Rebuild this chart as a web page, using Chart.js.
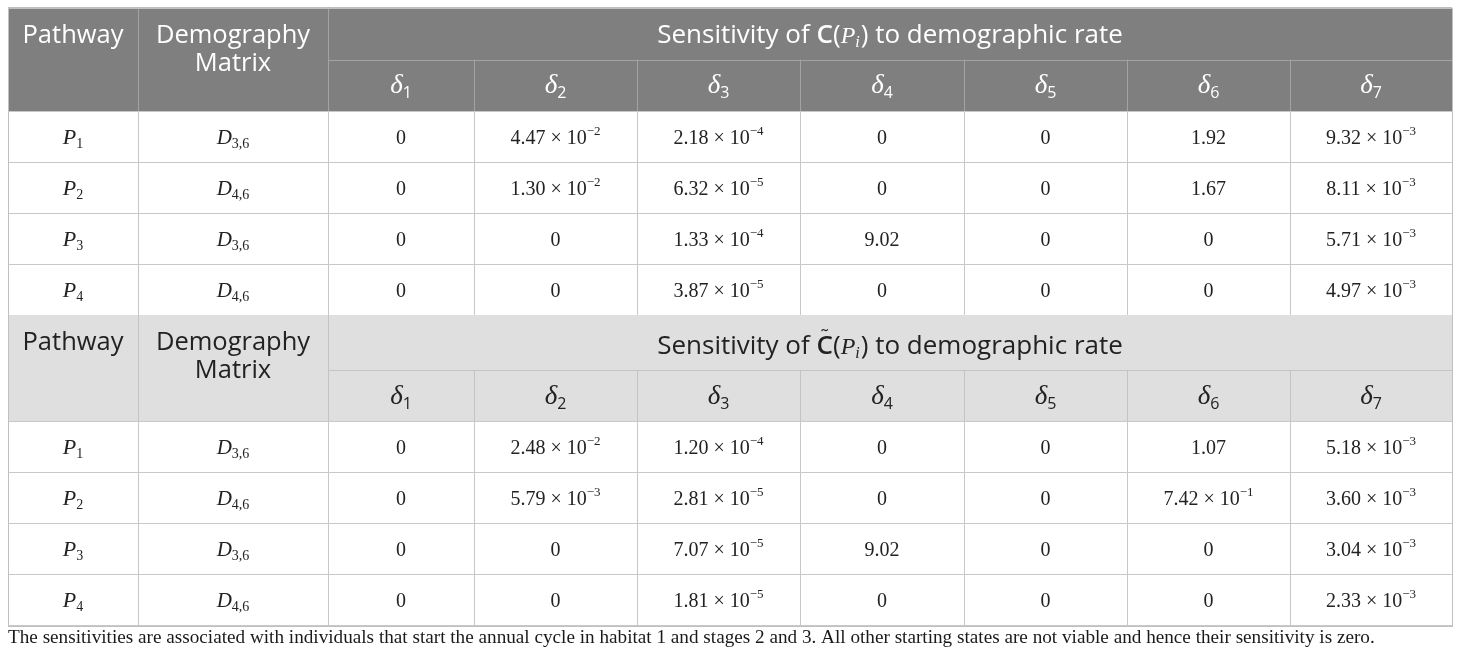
<!DOCTYPE html>
<html>
<head>
<meta charset="utf-8">
<script src="https://cdn.jsdelivr.net/npm/chart.js@4.4.1/dist/chart.umd.min.js"></script>
<style>
html,body{margin:0;padding:0;background:#fff;}
#wrap{width:1460px;height:662px;position:relative;}
</style>
</head>
<body>
<div id="wrap"><canvas id="table"></canvas></div>
<script>
'use strict';
// table content
const rates=['1','2','3','4','5','6','7'];
const pathways=['1','2','3','4'];
const matrices=['3,6','4,6','3,6','4,6'];
const sensC=[
  [0,4.47e-2,2.18e-4,0,0,1.92,9.32e-3],
  [0,1.30e-2,6.32e-5,0,0,1.67,8.11e-3],
  [0,0,1.33e-4,9.02,0,0,5.71e-3],
  [0,0,3.87e-5,0,0,0,4.97e-3],
];
const sensCtilde=[
  [0,2.48e-2,1.20e-4,0,0,1.07,5.18e-3],
  [0,5.79e-3,2.81e-5,0,0,7.42e-1,3.60e-3],
  [0,0,7.07e-5,9.02,0,0,3.04e-3],
  [0,0,1.81e-5,0,0,0,2.33e-3],
];
const colLabels=['Pathway','Demography','Matrix'];
const footnote='The sensitivities are associated with individuals that start the annual cycle in habitat 1 and stages 2 and 3. All other starting states are not viable and hence their sensitivity is zero.';

// layout (table units)
const colW=[130,190,146,163,163,164,163,163,162];
const rowH=[52,51.5,51,51,51,51,55,51,51,51,51,51];
const colEdge=colW.reduce((a,w)=>{a.push(a.at(-1)+w);return a;},[0]);
const rowEdge=rowH.reduce((a,h)=>{a.push(a.at(-1)+h);return a;},[0]);

const SANS='"Open Sans", "Noto Sans", sans-serif';
const SERIF='"Liberation Serif", "DejaVu Serif", serif';
const SCRIPT='italic 22px '+SERIF;
const HEAD='25.5px '+SANS;

function fmt(v){
  if(v===0)return [{t:'0',f:'20px '+SERIF}];
  const e=Math.floor(Math.log10(v)+1e-9);
  if(e>=0)return [{t:v.toFixed(2),f:'20px '+SERIF}];
  const m=(v/Math.pow(10,e)).toFixed(2);
  return [
    {t:m+' \u00d7 10',f:'20px '+SERIF},
    {t:'\u2212'+(-e),f:'13px '+SERIF,dy:-9},
  ];
}

function rich(ctx,segs,cx,base,color){
  let total=0;
  const ws=segs.map(s=>{ctx.font=s.f;const w=ctx.measureText(s.t).width+(s.gap||0);total+=w;return w;});
  let x=cx-total/2;
  ctx.fillStyle=color;
  ctx.textAlign='left';
  ctx.textBaseline='alphabetic';
  segs.forEach((s,i)=>{
    ctx.font=s.f;
    ctx.fillText(s.t,x,base+(s.dy||0));
    if(s.tilde){
      const w=ctx.measureText(s.t).width;
      ctx.font='19px '+SANS;
      ctx.textAlign='center';
      ctx.fillText('\u02dc',x+w/2,base-12);
      ctx.textAlign='left';
    }
    x+=ws[i];
  });
}

const tablePlugin={
  id:'tablePlugin',
  beforeDatasetsDraw(chart){
    const ctx=chart.ctx;
    const xs=chart.scales.x,ys=chart.scales.y;
    const X=v=>xs.getPixelForValue(v);
    const Y=v=>ys.getPixelForValue(v);
    const px=v=>Math.round(v)+0.5;
    const nC=colEdge.length-1;
    const cx=i=>X((colEdge[i]+colEdge[i+1])/2);
    const cy=r=>Y((rowEdge[r]+rowEdge[r+1])/2);

    const hline=(y,c0,c1,col)=>{ctx.strokeStyle=col;ctx.beginPath();ctx.moveTo(X(colEdge[c0]),px(Y(y)));ctx.lineTo(X(colEdge[c1]),px(Y(y)));ctx.stroke();};
    const vline=(c,r0,r1,col)=>{ctx.strokeStyle=col;ctx.beginPath();ctx.moveTo(px(X(colEdge[c])),Y(rowEdge[r0]));ctx.lineTo(px(X(colEdge[c])),Y(rowEdge[r1]));ctx.stroke();};

    ctx.save();
    ctx.lineWidth=1;

    const blocks=[
      {r0:0,bg:'#7f7f7f',line:'#a3a3a3',txt:'#ffffff',data:sensC,tilde:false},
      {r0:6,bg:'#dfdfdf',line:'#c4c4c4',txt:'#222222',data:sensCtilde,tilde:true},
    ];
    blocks.forEach(b=>{
      const r0=b.r0;
      // header background
      ctx.fillStyle=b.bg;
      ctx.fillRect(X(0),Y(rowEdge[r0]),X(colEdge[nC])-X(0),Y(rowEdge[r0+2])-Y(rowEdge[r0]));
      // header grid
      hline(rowEdge[r0+1],2,nC,b.line);
      vline(1,r0,r0+2,b.line);
      vline(2,r0,r0+2,b.line);
      for(let c=3;c<nC;c++)vline(c,r0+1,r0+2,b.line);
      // body grid
      for(let r=r0+2;r<r0+6;r++){
        hline(rowEdge[r],0,nC,'#c8c8c8');
        for(let c=1;c<nC;c++)vline(c,r,r+1,'#c8c8c8');
      }
      // header text
      const top=Y(rowEdge[r0]);
      const l1=top+35, l2=l1+28;
      rich(ctx,[{t:colLabels[0],f:HEAD}],cx(0),l1,b.txt);
      rich(ctx,[{t:colLabels[1],f:HEAD}],cx(1),l1,b.txt);
      rich(ctx,[{t:colLabels[2],f:HEAD}],cx(1),l2,b.txt);
      const spanC=(X(colEdge[2])+X(colEdge[nC]))/2;
      rich(ctx,[
        {t:'Sensitivity of ',f:'26px '+SANS},
        {t:'C',f:'600 26px '+SANS,tilde:b.tilde},
        {t:'(',f:'26px '+SANS},
        {t:'P',f:'italic 24px '+SERIF},
        {t:'i',f:'italic 16px '+SERIF,dy:4,gap:1},
        {t:') to demographic rate',f:'26px '+SANS},
      ],spanC,cy(r0)+9+(b.tilde?2:0),b.txt);
      rates.forEach((d,i)=>{
        rich(ctx,[
          {t:'\u03b4',f:'italic 27px '+SERIF},
          {t:d,f:'16px '+SANS,dy:5},
        ],cx(i+2),cy(r0+1)+8,b.txt);
      });
      // body text
      b.data.forEach((row,j)=>{
        const base=cy(r0+2+j)+7;
        rich(ctx,[{t:'P',f:SCRIPT},{t:pathways[j],f:'14px '+SERIF,dy:4}],cx(0),base,'#222');
        rich(ctx,[{t:'D',f:'italic 21px '+SERIF},{t:matrices[j],f:'14px '+SERIF,dy:4}],cx(1),base,'#222');
        row.forEach((v,i)=>rich(ctx,fmt(v),cx(i+2),base,'#222'));
      });
    });
    // outer border
    ctx.strokeStyle='#c0c0c0';
    ctx.strokeRect(px(X(0)),px(Y(0)),Math.round(X(colEdge[nC])-X(0)),Math.round(Y(rowEdge.at(-1))-Y(0)));
    hline(rowEdge.at(-1),0,nC,'#c8c8c8');
    // footnote
    ctx.fillStyle='#1a1a1a';
    ctx.font='19.2px '+SERIF;
    ctx.textAlign='left';
    ctx.textBaseline='alphabetic';
    ctx.fillText(footnote,X(0),Y(rowEdge.at(-1))+18);
    ctx.restore();
  }
};

// invisible anchor points at each body cell centre
const anchors=[];
[sensC,sensCtilde].forEach((blk,b)=>blk.forEach((row,j)=>row.forEach((v,i)=>{
  const r=b*6+2+j;
  anchors.push({x:(colEdge[i+2]+colEdge[i+3])/2,y:(rowEdge[r]+rowEdge[r+1])/2});
})));

new Chart(document.getElementById('table'),{
  type:'scatter',
  data:{datasets:[{data:anchors,pointRadius:0,pointHoverRadius:0}]},
  options:{
    responsive:true,
    maintainAspectRatio:false,
    animation:false,
    events:[],
    layout:{padding:{left:8,right:8,top:7.5,bottom:37}},
    plugins:{legend:{display:false},tooltip:{enabled:false}},
    scales:{
      x:{type:'linear',min:0,max:colEdge.at(-1),display:false},
      y:{type:'linear',min:0,max:rowEdge.at(-1),reverse:true,display:false},
    },
  },
  plugins:[tablePlugin],
});
</script>
</body>
</html>
